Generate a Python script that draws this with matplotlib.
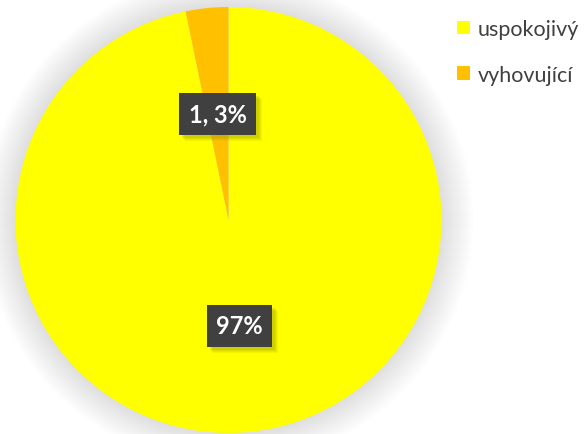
import numpy as np
import matplotlib
matplotlib.use("Agg")
import matplotlib.pyplot as plt
from matplotlib.patches import Circle, Patch, Rectangle
from matplotlib.transforms import IdentityTransform

categories = ["uspokojivý", "vyhovující"]
values = [30, 1]
colors = ["#FFFF00", "#FFC000"]
label_texts = ["97%", "1, 3%"]

W, H = 587, 435
fig = plt.figure(figsize=(W / 100, H / 100), dpi=100)
ax = fig.add_axes([0, 0, 1, 1])
ax.set_xlim(0, W)
ax.set_ylim(0, H)
ax.set_aspect("equal")
ax.axis("off")

cx, cy, R = 228.5, H - 221, 213

# soft glow around the pie
for k in range(32, 0, -1):
    ax.add_patch(Circle((cx, cy), R + k, facecolor="#808080", edgecolor="none",
                        alpha=0.009, zorder=0))

wedges, _ = ax.pie(values, colors=colors, startangle=90, counterclock=False,
                   center=(cx, cy), radius=R, frame=True,
                   wedgeprops=dict(edgecolor="none"))
ax.set_xlim(0, W)
ax.set_ylim(0, H)
ax.axis("off")

texts = []
for w, txt in zip(wedges, label_texts):
    ang = np.deg2rad((w.theta1 + w.theta2) / 2)
    x = cx + 0.5 * R * np.cos(ang)
    y = cy + 0.5 * R * np.sin(ang)
    t = ax.text(x, y, txt, ha="center", va="center", fontsize=17,
                fontweight="bold", family="Lato", color="white",
                bbox=dict(boxstyle="square,pad=0.4", facecolor="#404040",
                          edgecolor="none"), zorder=5)
    texts.append(t)

fig.canvas.draw()
renderer = fig.canvas.get_renderer()
for t in texts:
    bb = t.get_bbox_patch().get_window_extent(renderer)
    for s, a in [(6, 0.10), (5, 0.12), (4, 0.15), (3, 0.18)]:
        ax.add_patch(Rectangle((bb.x0 + s, bb.y0 - s), bb.width, bb.height,
                               transform=IdentityTransform(),
                               facecolor="#9a9a00", edgecolor="none",
                               alpha=a, zorder=4))

handles = [Patch(facecolor=c, edgecolor="none") for c in colors]
fig.legend(handles, categories, loc="upper left",
           bbox_to_anchor=(457 / W, 1 - 20 / H), frameon=False,
           prop=dict(family="Lato", size=15.5), labelcolor="#404040",
           handlelength=0.6, handleheight=0.6, handletextpad=0.35,
           labelspacing=1.2, borderaxespad=0, borderpad=0)

fig.savefig("out.png", dpi=100, facecolor="white")
